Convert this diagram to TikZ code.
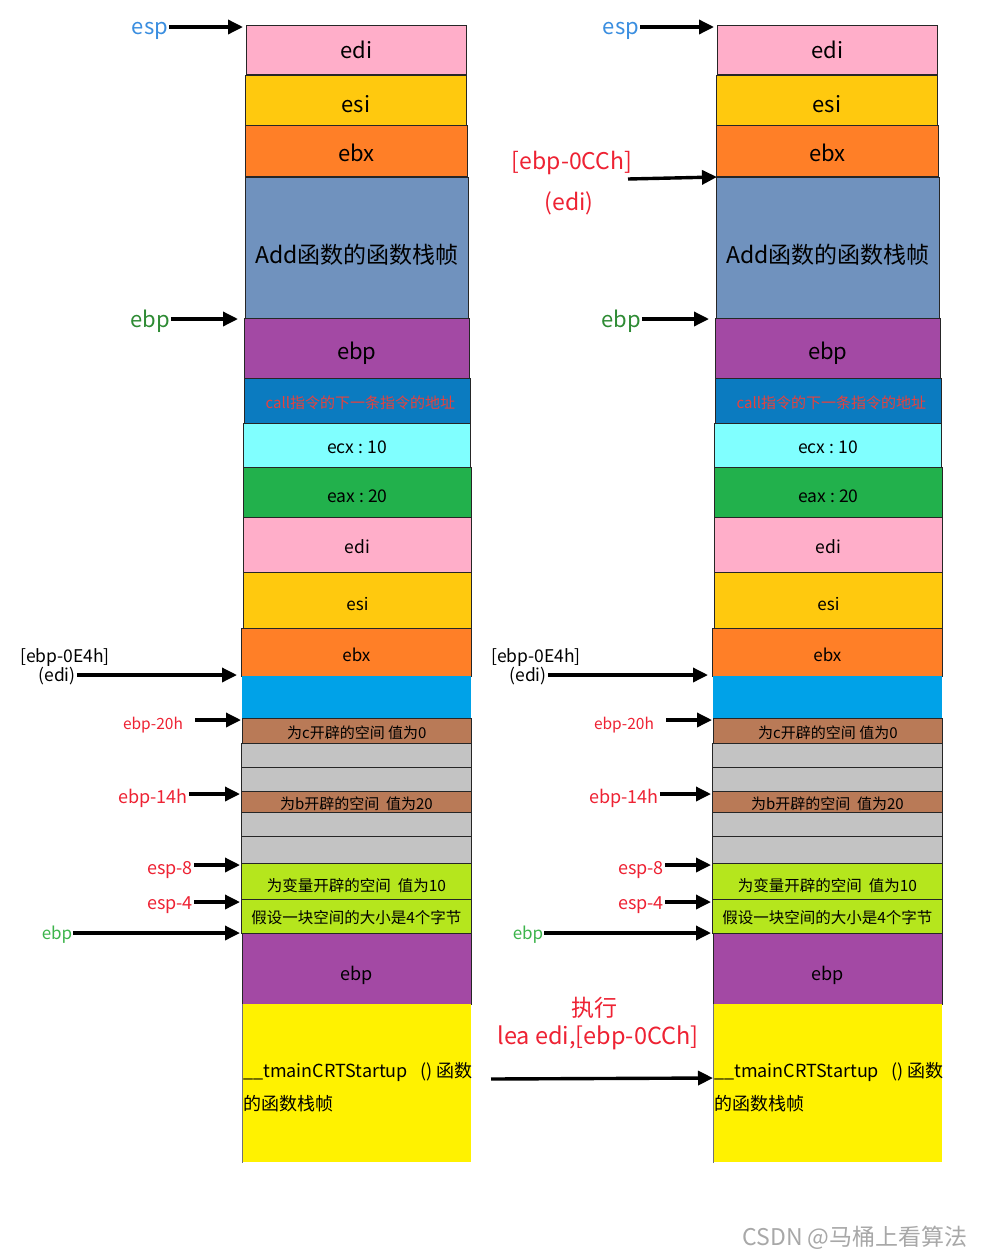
\documentclass[tikz,border=0pt]{standalone}
\usepackage{fontspec}
\setmainfont{Noto Sans CJK SC}
\usetikzlibrary{arrows.meta}
\definecolor{cpink}{HTML}{FFAEC9}
\definecolor{cgold}{HTML}{FFC90E}
\definecolor{corange}{HTML}{FF7F27}
\definecolor{cbluegray}{HTML}{7092BE}
\definecolor{cpurple}{HTML}{A349A4}
\definecolor{ccall}{HTML}{0B7BC0}
\definecolor{ccyan}{HTML}{80FFFF}
\definecolor{cgreen}{HTML}{22B14C}
\definecolor{cbright}{HTML}{00A2E8}
\definecolor{cbrown}{HTML}{B97A57}
\definecolor{cgray}{HTML}{C3C3C3}
\definecolor{clime}{HTML}{B5E61D}
\definecolor{cyellow}{HTML}{FFF200}
\definecolor{tred}{HTML}{EE2233}
\definecolor{tcall}{HTML}{E8413C}
\definecolor{tblue}{HTML}{3A8EE0}
\definecolor{tgreen}{HTML}{2E8B34}
\definecolor{tgreenl}{HTML}{3CB44B}
\definecolor{twater}{HTML}{A8A8A8}
\newcommand\fsz[1]{\fontsize{#1}{#1}\selectfont}
\tikzset{
  blk/.style={draw=black!85, line width=0.8pt, anchor=north west, inner sep=0pt, rectangle},
  arr/.style={line width=3.4pt, black, -{Triangle[length=15pt,width=14pt]}},
  lbl/.style={inner sep=1pt},
}
% name, x1, y1, x2, y2, colour, text, downward text shift
\newcommand\stackbox[8]{%
  \node[blk,fill=#6,minimum width={#4-#2},minimum height={#5-#3}] (#1) at (#2,#3) {};
  \node[inner sep=0pt] (#1-t) at ([yshift=-#8pt]#1.center) {#7};}
\newcommand\stackcol[1]{%
  \stackbox{#1a}{246}{25}{466}{74}{cpink}{\fsz{22}edi}{0}
  \stackbox{#1b}{245}{75}{466}{125}{cgold}{\fsz{22}esi}{4}
  \stackbox{#1c}{245}{125}{467}{176}{corange}{\fsz{22}ebx}{2}
  \stackbox{#1d}{245}{177}{468}{318}{cbluegray}{\fsz{23}Add函数的函数栈帧}{7}
  \stackbox{#1e}{244}{318}{469}{378}{cpurple}{\fsz{22}ebp}{5}
  \stackbox{#1f}{244}{378}{470}{423}{ccall}{\fsz{15}\color{tcall}\hspace{6pt}call指令的下一条指令的地址}{2}
  \stackbox{#1g}{243}{423}{470}{467}{ccyan}{\fsz{17.5}ecx\ :\ 10}{2}
  \stackbox{#1h}{243}{467}{471}{517}{cgreen}{\fsz{17.5}eax\ :\ 20}{4}
  \stackbox{#1i}{243}{517}{471}{572}{cpink}{\fsz{17.5}edi}{2}
  \stackbox{#1j}{243}{572}{471}{628}{cgold}{\fsz{17}esi}{4}
  \stackbox{#1k}{241}{628}{471}{676}{corange}{\fsz{17}ebx}{2}
  \node[blk,draw=none,fill=cbright,minimum width=229,minimum height=42] (#1l) at (242,676) {};
  \stackbox{#1m}{242}{718}{471}{743}{cbrown}{\fsz{15}为c开辟的空间 值为0}{2}
  \stackbox{#1n}{241}{743}{471}{767}{cgray}{}{0}
  \stackbox{#1o}{241}{767}{471}{791}{cgray}{}{0}
  \stackbox{#1p}{241}{791}{471}{812}{cbrown}{\fsz{15}为b开辟的空间\ \ 值为20}{2}
  \stackbox{#1q}{241}{812}{471}{836}{cgray}{}{0}
  \stackbox{#1r}{241}{836}{471}{863}{cgray}{}{0}
  \stackbox{#1s}{241}{863}{471}{899}{clime}{\fsz{15.5}为变量开辟的空间\ \ 值为10}{4}
  \stackbox{#1t}{241}{899}{471}{933}{clime}{\fsz{15.5}假设一块空间的大小是4个字节}{1}
  \stackbox{#1u}{242}{933}{471}{1004}{cpurple}{\fsz{18}ebp}{6}
  \node[blk,draw=none,fill=cyellow,minimum width=229,minimum height=158] (#1v) at (242,1004) {};
  \draw[line width=0.8pt, black!55] (#1v.north west) -- (#1v.south west);
  \node[anchor=north west, align=left, inner sep=0pt, font=\fsz{18}] (#1vt) at (243,1062)
    {\_\_tmainCRTStartup\ \ \ ()\ 函数\\[13pt]的函数栈帧};
  % labels
  \node[lbl, text=tblue, font=\fsz{22}] (#1esp) at (150,31) {esp};
  \node[lbl, text=tgreen, font=\fsz{22}] (#1ebp) at (150,321) {ebp};
  \node[lbl, font=\fsz{17.5}] (#1eh) at (65,658) {[ebp-0E4h]};
  \node[lbl, font=\fsz{17.5}] (#1edi) at (57,676) {(edi)};
  \node[lbl, text=tred, font=\fsz{15.5}] (#1twenty) at (153,725) {ebp-20h};
  \node[lbl, text=tred, font=\fsz{18}] (#1fourteen) at (153,798) {ebp-14h};
  \node[lbl, text=tred, font=\fsz{18}] (#1eight) at (170,870) {esp-8};
  \node[lbl, text=tred, font=\fsz{18}] (#1four) at (170,905) {esp-4};
  \node[lbl, text=tgreenl, font=\fsz{17}] (#1ebpb) at (57,935) {ebp};
  % targets
  \coordinate (#1tesp) at (243,27);
  \coordinate (#1tebp) at (238,319);
  \coordinate (#1tedi) at (237,675);
  \coordinate (#1ttwenty) at (241,720);
  \coordinate (#1tfourteen) at (240,794);
  \coordinate (#1teight) at (240,865);
  \coordinate (#1tfour) at (240,902);
  \coordinate (#1tebpb) at (240,933);
  \coordinate (#1stwenty) at (195,720);
  \draw[arr] (#1esp.east |- #1tesp) -- (#1tesp);
  \draw[arr] (#1ebp.east |- #1tebp) -- (#1tebp);
  \draw[arr] (#1edi.east |- #1tedi) -- (#1tedi);
  \draw[arr] (#1stwenty) -- (#1ttwenty);
  \draw[arr] (#1fourteen.east |- #1tfourteen) -- (#1tfourteen);
  \draw[arr] (#1eight.east |- #1teight) -- (#1teight);
  \draw[arr] (#1four.east |- #1tfour) -- (#1tfour);
  \draw[arr] (#1ebpb.east |- #1tebpb) -- (#1tebpb);
}
\begin{document}
\begin{tikzpicture}[x=1pt,y=-1pt]
\useasboundingbox (0,0) rectangle (986,1258);
\fill[white] (0,0) rectangle (986,1258);
\begin{scope}
  \stackcol{L}
\end{scope}
\begin{scope}[xshift=471pt]
  \stackcol{R}
\end{scope}
\node[lbl, text=tred, font=\fsz{23}] (cch) at (572,163) {[ebp-0CCh]};
\node[lbl, text=tred, font=\fsz{23}] (cchedi) at (569,203) {(edi)};
\coordinate (cchs) at (628,179);
\coordinate (ccht) at (717,177);
\draw[arr] (cchs) -- (ccht);
\node[lbl, text=tred, font=\fsz{23}] (exec) at (594,1008) {执行};
\node[lbl, text=tred, font=\fsz{23.5}] (lea) at (598,1038) {lea edi,[ebp-0CCh]};
\coordinate (leas) at (491,1079);
\draw[arr] (leas) -- (Rv.west |- 0,1078);
\node[lbl, text=twater, font=\fsz{23}] (water) at (855,1238) {CSDN @马桶上看算法};
\end{tikzpicture}
\end{document}
